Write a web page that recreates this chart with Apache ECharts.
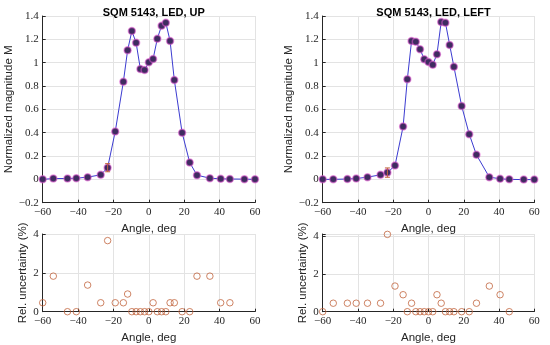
<!DOCTYPE html>
<html><head><meta charset="utf-8">
<script src="https://cdn.jsdelivr.net/npm/echarts@6/dist/echarts.min.js"></script>
<style>html,body{margin:0;padding:0;background:#fff}#c{width:550px;height:345px}</style>
</head><body><div id="c"></div>
<script>
// ---- data ----
const angles = [-60, -54, -46, -41, -34.6, -27.2, -23.3, -19, -14.4, -12, -9.6, -7.2, -4.8, -2.4, 0, 2.4, 4.8, 7.2, 9.6, 12, 14.4, 18.8, 23.1, 27.2, 34.5, 40.6, 45.8, 54, 60];
const magUp = [0, 0.007, 0.007, 0.01, 0.019, 0.039, 0.10, 0.41, 0.837, 1.106, 1.271, 1.171, 0.946, 0.937, 1.003, 1.032, 1.206, 1.317, 1.342, 1.186, 0.852, 0.40, 0.144, 0.036, 0.01, 0.005, 0.003, 0.002, 0];
const magLeft = [0, 0, 0.003, 0.007, 0.019, 0.039, 0.058, 0.118, 0.452, 0.858, 1.186, 1.18, 1.115, 1.029, 1.006, 0.983, 1.072, 1.349, 1.343, 1.152, 0.966, 0.629, 0.387, 0.21, 0.019, 0.005, 0, -0.002, -0.002];
const errUp = [0, 0, 0, 0, 0, 0, 0.035, 0, 0, 0, 0, 0, 0, 0, 0, 0, 0, 0, 0, 0, 0, 0, 0, 0, 0, 0, 0, 0, 0];
const errLeft = [0, 0, 0, 0, 0, 0, 0.04, 0, 0, 0, 0, 0, 0, 0, 0, 0, 0, 0, 0, 0, 0, 0, 0, 0, 0, 0, 0, 0, 0];
const uncUp = [0.46, 1.83, 0, 0, 1.37, 0.46, 3.66, 0.46, 0.46, 0.91, 0, 0, 0, 0, 0, 0.46, 0, 0, 0, 0.46, 0.46, 0, 0, 1.83, 1.83, 0.46, 0.46, null, null];
const uncLeft = [0, 0.45, 0.45, 0.45, 0.45, 0.45, 4.1, 1.36, 0.9, 0, 0.45, 0, 0, 0, 0, 0, 0.9, 0.45, 0, 0, 0, 0, 0, 0.45, 1.36, 0.9, 0, null, null];
const titles = ['SQM 5143, LED, UP', 'SQM 5143, LED, LEFT'];
const xTicks = {min: -60, max: 60, interval: 20};
const magTicks = {min: -0.2, max: 1.4, interval: 0.2};
const uncTicks = [{min: 0, max: 4, interval: 2}, {min: 0, max: 4.12, interval: 2}];

// ---- styling ----
const AX = '#262626', GRID = '#e3e3e3';
const SERIF = 'Liberation Serif', SANS = 'Liberation Sans';
const LINE = '#3b3bd0', MFILL = '#3f2c60', MEDGE = 'rgba(225,90,210,0.55)', ORANGE = '#c2653f';
const fmt = v => {
  const r = Math.round(v * 100) / 100;
  return String(r).replace('-', '\u2212');
};
const grids = [
  {left: 42.7, top: 16, width: 212.3, height: 186.7},
  {left: 322.7, top: 16, width: 211.6, height: 186.7},
  {left: 42.7, top: 234, width: 212.3, height: 77.7},
  {left: 322.7, top: 234, width: 211.6, height: 77.7}
];
function xAxis(i, nameGap) {
  return Object.assign({
    type: 'value', gridIndex: i,
    name: 'Angle, deg', nameLocation: 'middle', nameGap: nameGap,
    nameTextStyle: {fontFamily: SANS, fontSize: 11.5, color: AX},
    axisLine: {show: true, onZero: false, lineStyle: {color: AX, width: 1}},
    axisTick: {show: true, inside: true, length: 3, lineStyle: {color: AX}},
    axisLabel: {fontFamily: SERIF, fontSize: 11, color: AX, margin: 4, formatter: fmt},
    splitLine: {show: true, lineStyle: {color: GRID, width: 1}}
  }, xTicks);
}
function yAxis(i, t, name, nameGap) {
  return {
    type: 'value', gridIndex: i, min: t.min, max: t.max, interval: t.interval,
    name: name, nameLocation: 'middle', nameGap: nameGap,
    nameTextStyle: {fontFamily: SANS, fontSize: 11.5, color: AX},
    axisLine: {show: true, onZero: false, lineStyle: {color: AX, width: 1}},
    axisTick: {show: true, inside: true, length: 3, lineStyle: {color: AX}},
    axisLabel: {fontFamily: SERIF, fontSize: 11, color: AX, margin: 4, showMaxLabel: true,
      formatter: v => (Math.abs(v / t.interval - Math.round(v / t.interval)) < 1e-6 ? fmt(v) : '')},
    splitLine: {show: true, lineStyle: {color: GRID, width: 1}}
  };
}
const pair = (xs, ys) => xs.map((x, k) => [x, ys[k]]);
function magSeries(i, ys) {
  return {
    type: 'line', xAxisIndex: i, yAxisIndex: i, data: pair(angles, ys), z: 3,
    symbol: 'circle', symbolSize: 7, showSymbol: true,
    lineStyle: {color: LINE, width: 1},
    itemStyle: {color: MFILL, borderColor: MEDGE, borderWidth: 1.5},
    animation: false
  };
}
function errSeries(i, ys, es) {
  const d = angles.map((x, k) => [x, ys[k] - es[k], ys[k] + es[k]]).filter((r, k) => es[k] > 0);
  return {
    type: 'custom', xAxisIndex: i, yAxisIndex: i, data: d, z: 4, animation: false,
    renderItem: (params, api) => {
      const lo = api.coord([api.value(0), api.value(1)]);
      const hi = api.coord([api.value(0), api.value(2)]);
      const c = 2.5;
      const st = {stroke: ORANGE, lineWidth: 1};
      return {type: 'group', children: [
        {type: 'line', shape: {x1: lo[0], y1: lo[1], x2: hi[0], y2: hi[1]}, style: st},
        {type: 'line', shape: {x1: lo[0] - c, y1: lo[1], x2: lo[0] + c, y2: lo[1]}, style: st},
        {type: 'line', shape: {x1: hi[0] - c, y1: hi[1], x2: hi[0] + c, y2: hi[1]}, style: st}
      ]};
    }
  };
}
function uncSeries(i, ys) {
  return {
    type: 'scatter', xAxisIndex: i, yAxisIndex: i,
    data: pair(angles, ys).filter(p => p[1] !== null),
    symbol: 'circle', symbolSize: 6.5,
    itemStyle: {color: 'rgba(0,0,0,0)', borderColor: ORANGE, borderWidth: 1},
    animation: false
  };
}
const chart = echarts.init(document.getElementById('c'), null, {renderer: 'canvas'});
chart.setOption({
  backgroundColor: '#fff',
  animation: false,
  title: [
    {text: titles[0], left: 148.8, top: 2, textAlign: 'center', textStyle: {fontFamily: SANS, fontSize: 11, fontWeight: 'bold', color: '#000'}},
    {text: titles[1], left: 428.5, top: 2, textAlign: 'center', textStyle: {fontFamily: SANS, fontSize: 11, fontWeight: 'bold', color: '#000'}}
  ],
  grid: grids,
  xAxis: [xAxis(0, 20), xAxis(1, 20), xAxis(2, 20), xAxis(3, 20)],
  yAxis: [
    yAxis(0, magTicks, 'Normalized magnitude M', 21),
    yAxis(1, magTicks, 'Normalized magnitude M', 21),
    yAxis(2, uncTicks[0], 'Rel. uncertainty (%)', 7),
    yAxis(3, uncTicks[1], 'Rel. uncertainty (%)', 7)
  ],
  series: [
    magSeries(0, magUp), errSeries(0, magUp, errUp),
    magSeries(1, magLeft), errSeries(1, magLeft, errLeft),
    uncSeries(2, uncUp), uncSeries(3, uncLeft)
  ]
});
</script></body></html>
